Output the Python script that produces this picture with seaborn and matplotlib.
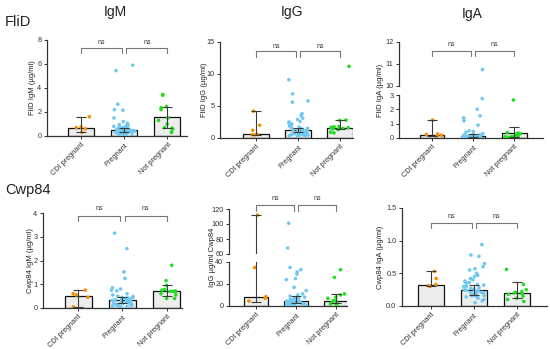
import warnings
import matplotlib
matplotlib.use("Agg")
import matplotlib.pyplot as plt
import matplotlib.transforms as mtransforms
import numpy as np
import pandas as pd
import seaborn as sns

warnings.filterwarnings("ignore")
np.random.seed(3)

# categorias e cores
groups = ["CDI pregnant", "Pregnant", "Not pregnant"]
colors = {"CDI pregnant": "#F39200", "Pregnant": "#6FC8F2", "Not pregnant": "#22DD22"}

# FliD IgM
flid_igm_cdi = [0.3, 0.6, 0.7, 0.75, 1.6]
flid_igm_preg = [5.9, 5.45, 2.65, 2.2, 2.15, 1.5, 1.2, 1.05, 0.95, 0.9, 0.85, 0.8, 0.75, 0.7,
                 0.7, 0.65, 0.6, 0.6, 0.55, 0.55, 0.5, 0.5, 0.5, 0.45, 0.45, 0.4, 0.4, 0.4,
                 0.35, 0.35, 0.3, 0.3, 0.3, 0.25, 0.25, 0.2, 0.2, 0.15, 0.15, 0.1, 0.1, 0.1]
flid_igm_notp = [3.45, 3.4, 2.45, 2.35, 2.2, 1.5, 1.3, 1.0, 0.7, 0.65, 0.6, 0.35, 0.3]
flid_igm_bar = [0.65, 0.5, 1.55]
flid_igm_lo = [0.3, 0.35, 0.7]
flid_igm_hi = [1.6, 0.7, 2.4]

# FliD IgG
flid_igg_cdi = [4.2, 2.0, 1.2, 0.55, 0.5, 0.5]
flid_igg_preg = [9.1, 6.9, 5.8, 5.6, 3.8, 3.5, 3.1, 2.9, 2.6, 2.5, 2.3, 2.2, 2.0, 1.9, 1.8,
                 1.7, 1.6, 1.5, 1.4, 1.35, 1.3, 1.25, 1.2, 1.1, 1.0, 1.0, 0.95, 0.9, 0.85,
                 0.8, 0.75, 0.7, 0.65, 0.6, 0.55, 0.5, 0.5, 0.45, 0.4, 0.4, 0.35, 0.3]
flid_igg_notp = [11.2, 2.8, 2.75, 1.8, 1.75, 1.7, 1.65, 1.6, 1.5, 1.4, 1.3, 0.9, 0.8]
flid_igg_bar = [0.7, 1.3, 1.6]
flid_igg_lo = [0.5, 0.9, 1.35]
flid_igg_hi = [4.2, 1.6, 2.8]

# FliD IgA
flid_iga_cdi = [1.25, 0.28, 0.25, 0.2, 0.15]
flid_iga_preg = [10.75, 2.75, 2.0, 1.55, 1.4, 1.2, 0.9, 0.5, 0.45, 0.4, 0.3, 0.25, 0.22, 0.2,
                 0.2, 0.18, 0.18, 0.16, 0.15, 0.15, 0.14, 0.13, 0.12, 0.12, 0.11, 0.1, 0.1,
                 0.1, 0.09, 0.08, 0.08, 0.07, 0.06, 0.05, 0.05, 0.05, 0.04, 0.03]
flid_iga_notp = [2.65, 0.38, 0.35, 0.3, 0.25, 0.15, 0.1, 0.08, 0.05, 0.05, 0.05, 0.05, 0.05]
flid_iga_bar = [0.22, 0.15, 0.32]
flid_iga_lo = [0.15, 0.05, 0.05]
flid_iga_hi = [1.25, 0.25, 0.8]

# Cwp84 IgM
cwp_igm_cdi = [0.75, 0.6, 0.55, 0.45, 0.05]
cwp_igm_preg = [3.15, 2.5, 1.52, 1.25, 0.85, 0.8, 0.75, 0.72, 0.6, 0.55, 0.5, 0.48, 0.45, 0.45,
                0.42, 0.4, 0.4, 0.38, 0.35, 0.35, 0.32, 0.3, 0.3, 0.28, 0.25, 0.25, 0.22, 0.2,
                0.2, 0.18, 0.15, 0.15, 0.12, 0.1, 0.1, 0.08, 0.05, 0.05]
cwp_igm_notp = [1.8, 1.15, 0.95, 0.78, 0.75, 0.72, 0.7, 0.7, 0.68, 0.6, 0.55, 0.4, 0.4]
cwp_igm_bar = [0.5, 0.35, 0.7]
cwp_igm_lo = [0.05, 0.2, 0.5]
cwp_igm_hi = [0.75, 0.45, 0.95]

# Cwp84 IgG
cwp_igg_cdi = [112, 35, 8.5, 7, 4.5]
cwp_igg_preg = [101, 68, 35, 33, 31, 29, 25, 24, 17, 14, 11, 10, 9, 8, 7.5, 7, 6, 5.5, 5, 5,
                4.5, 4.5, 4, 4, 3.5, 3.5, 3, 3, 2.5, 2.5, 2, 2, 1.5, 1.5, 1, 1, 0.8, 0.5]
cwp_igg_notp = [33, 26, 11, 10, 8, 7, 5, 4.5, 3, 2.5, 2, 1.5, 1]
cwp_igg_bar = [8.5, 4.5, 5]
cwp_igg_lo = [4, 3, 2.5]
cwp_igg_hi = [112, 9, 11]

# Cwp84 IgA
cwp_iga_cdi = [0.53, 0.42, 0.33, 0.31, 0.3]
cwp_iga_preg = [0.94, 0.78, 0.76, 0.65, 0.6, 0.57, 0.55, 0.5, 0.47, 0.45, 0.42, 0.4, 0.38, 0.36,
                0.35, 0.33, 0.32, 0.3, 0.3, 0.28, 0.27, 0.26, 0.25, 0.24, 0.23, 0.22, 0.21, 0.2,
                0.2, 0.19, 0.18, 0.17, 0.16, 0.16, 0.15, 0.14, 0.12, 0.1, 0.08, 0.05]
cwp_iga_notp = [0.56, 0.33, 0.25, 0.22, 0.21, 0.2, 0.19, 0.18, 0.15, 0.12, 0.1, 0.07]
cwp_iga_bar = [0.32, 0.25, 0.2]
cwp_iga_lo = [0.3, 0.17, 0.13]
cwp_iga_hi = [0.53, 0.32, 0.36]

sns.set_style("ticks")
plt.rcParams["font.family"] = ["Liberation Sans", "DejaVu Sans"]

W, H = 550, 349
fig = plt.figure(figsize=(W / 100, H / 100), dpi=100)


def rect(x0, x1, ytop, ybot):
    return [x0 / W, 1 - ybot / H, (x1 - x0) / W, (ybot - ytop) / H]


def make_df(cdi, preg, notp):
    return pd.DataFrame({
        "grupo": ["CDI pregnant"] * len(cdi) + ["Pregnant"] * len(preg) + ["Not pregnant"] * len(notp),
        "valor": cdi + preg + notp,
    })


def desenha(ax, df, bar, lo, hi, xlim, ylim, ticks, bottom=True):
    sns.barplot(x=groups, y=bar, order=groups, color="#EDEDED", saturation=1,
                edgecolor="#111111", linewidth=0.9, width=0.6, errorbar=None, ax=ax, zorder=2)
    m = np.array(bar)
    ax.errorbar(range(3), m, yerr=[m - np.array(lo), np.array(hi) - m], fmt="none",
                ecolor="#3a3a3a", elinewidth=0.8, capsize=3.5, capthick=0.8, zorder=4)
    sns.stripplot(data=df, x="grupo", y="valor", hue="grupo", order=groups, palette=colors,
                  size=2.6, jitter=0.25, legend=False, ax=ax, zorder=3, linewidth=0)
    ax.set_xlim(*xlim)
    ax.set_ylim(*ylim)
    ax.set_yticks(ticks)
    ax.set_xlabel("")
    ax.set_ylabel("")
    for s in ["top", "right"]:
        ax.spines[s].set_visible(False)
    for s in ["left", "bottom"]:
        ax.spines[s].set_linewidth(0.9)
        ax.spines[s].set_color("#333333")
    ax.tick_params(labelsize=5.3, length=2.5, width=0.7, pad=1.5, colors="#333333")
    if bottom:
        ax.set_xticks(range(3))
        ax.set_xticklabels(groups, rotation=45, ha="right", rotation_mode="anchor")
    else:
        ax.spines["bottom"].set_visible(False)
        ax.set_xticks([])


def colchetes(ax, ytop, ydrop, yns):
    tr = mtransforms.blended_transform_factory(ax.transData, fig.transFigure)
    for a, b in [(0, 0.95), (1.05, 2)]:
        ax.plot([a, a, b, b], [1 - ydrop / H, 1 - ytop / H, 1 - ytop / H, 1 - ydrop / H],
                color="#777777", lw=0.8, transform=tr, clip_on=False)
        ax.text((a + b) / 2, 1 - yns / H, "ns", ha="center", va="center", fontsize=5,
                color="#333333", transform=tr)


def ylab(x, ytop, ybot, texto):
    fig.text(x / W, 1 - (ytop + ybot) / 2 / H, texto, rotation=90, ha="center", va="center",
             fontsize=5.5, color="#222222")


# FliD IgM
ax = fig.add_axes(rect(47, 187, 40, 136))
desenha(ax, make_df(flid_igm_cdi, flid_igm_preg, flid_igm_notp), flid_igm_bar, flid_igm_lo,
        flid_igm_hi, (-0.78, 2.45), (0, 8), [0, 2, 4, 6, 8])
colchetes(ax, 48, 53, 42)
ylab(33, 40, 136, "FliD IgM (µg/ml)")

# FliD IgG
ax = fig.add_axes(rect(220, 353, 42, 138))
desenha(ax, make_df(flid_igg_cdi, flid_igg_preg, flid_igg_notp), flid_igg_bar, flid_igg_lo,
        flid_igg_hi, (-0.86, 2.31), (0, 15), [0, 5, 10, 15])
colchetes(ax, 51, 57, 46)
ylab(204, 42, 138, "FliD IgG (µg/ml)")

# FliD IgA (eixo quebrado)
df = make_df(flid_iga_cdi, flid_iga_preg, flid_iga_notp)
ax_t = fig.add_axes(rect(399, 543, 42, 86))
desenha(ax_t, df, flid_iga_bar, flid_iga_lo, flid_iga_hi, (-0.8, 2.7), (10, 12), [10, 11, 12],
        bottom=False)
ax_b = fig.add_axes(rect(399, 543, 95, 138))
desenha(ax_b, df, flid_iga_bar, flid_iga_lo, flid_iga_hi, (-0.8, 2.7), (0, 3), [0, 1, 2, 3])
colchetes(ax_t, 51, 56, 45)
ylab(381, 42, 138, "FliD IgA (µg/ml)")

# Cwp84 IgM
ax = fig.add_axes(rect(43, 182, 213, 308))
desenha(ax, make_df(cwp_igm_cdi, cwp_igm_preg, cwp_igm_notp), cwp_igm_bar, cwp_igm_lo,
        cwp_igm_hi, (-0.8, 2.35), (0, 4), [0, 1, 2, 3, 4])
colchetes(ax, 216, 221, 209)
ylab(31, 213, 308, "Cwp84 IgM (µg/ml)")

# Cwp84 IgG (eixo quebrado)
df = make_df(cwp_igg_cdi, cwp_igg_preg, cwp_igg_notp)
ax_t = fig.add_axes(rect(229, 347, 209, 254))
desenha(ax_t, df, cwp_igg_bar, cwp_igg_lo, cwp_igg_hi, (-0.68, 2.27), (60, 120),
        [60, 80, 100, 120], bottom=False)
ax_b = fig.add_axes(rect(229, 347, 262, 306))
desenha(ax_b, df, cwp_igg_bar, cwp_igg_lo, cwp_igg_hi, (-0.68, 2.27), (0, 40), [0, 20, 40])
colchetes(ax_t, 205, 211, 199)
ylab(212, 209, 306, "IgG µg/ml Cwp84")

# Cwp84 IgA
ax = fig.add_axes(rect(402, 547, 208, 306))
desenha(ax, make_df(cwp_iga_cdi, cwp_iga_preg, cwp_iga_notp), cwp_iga_bar, cwp_iga_lo,
        cwp_iga_hi, (-0.67, 2.7), (0, 1.5), [0, 0.5, 1.0, 1.5])
ax.set_yticklabels(["0.0", "0.5", "1.0", "1.5"])
colchetes(ax, 223, 228, 216)
ylab(381, 208, 306, "Cwp84 IgA (µg/ml)")

# titulos
for x, y, t in [(115, 12, "IgM"), (292, 12, "IgG"), (472, 14, "IgA")]:
    fig.text(x / W, 1 - y / H, t, ha="center", va="center", fontsize=10, color="#222222")
fig.text(5 / W, 1 - 22 / H, "FliD", ha="left", va="center", fontsize=10.5, color="#222222")
fig.text(5 / W, 1 - 190 / H, "Cwp84", ha="left", va="center", fontsize=10.5, color="#222222")

fig.savefig("out.png", dpi=100)
